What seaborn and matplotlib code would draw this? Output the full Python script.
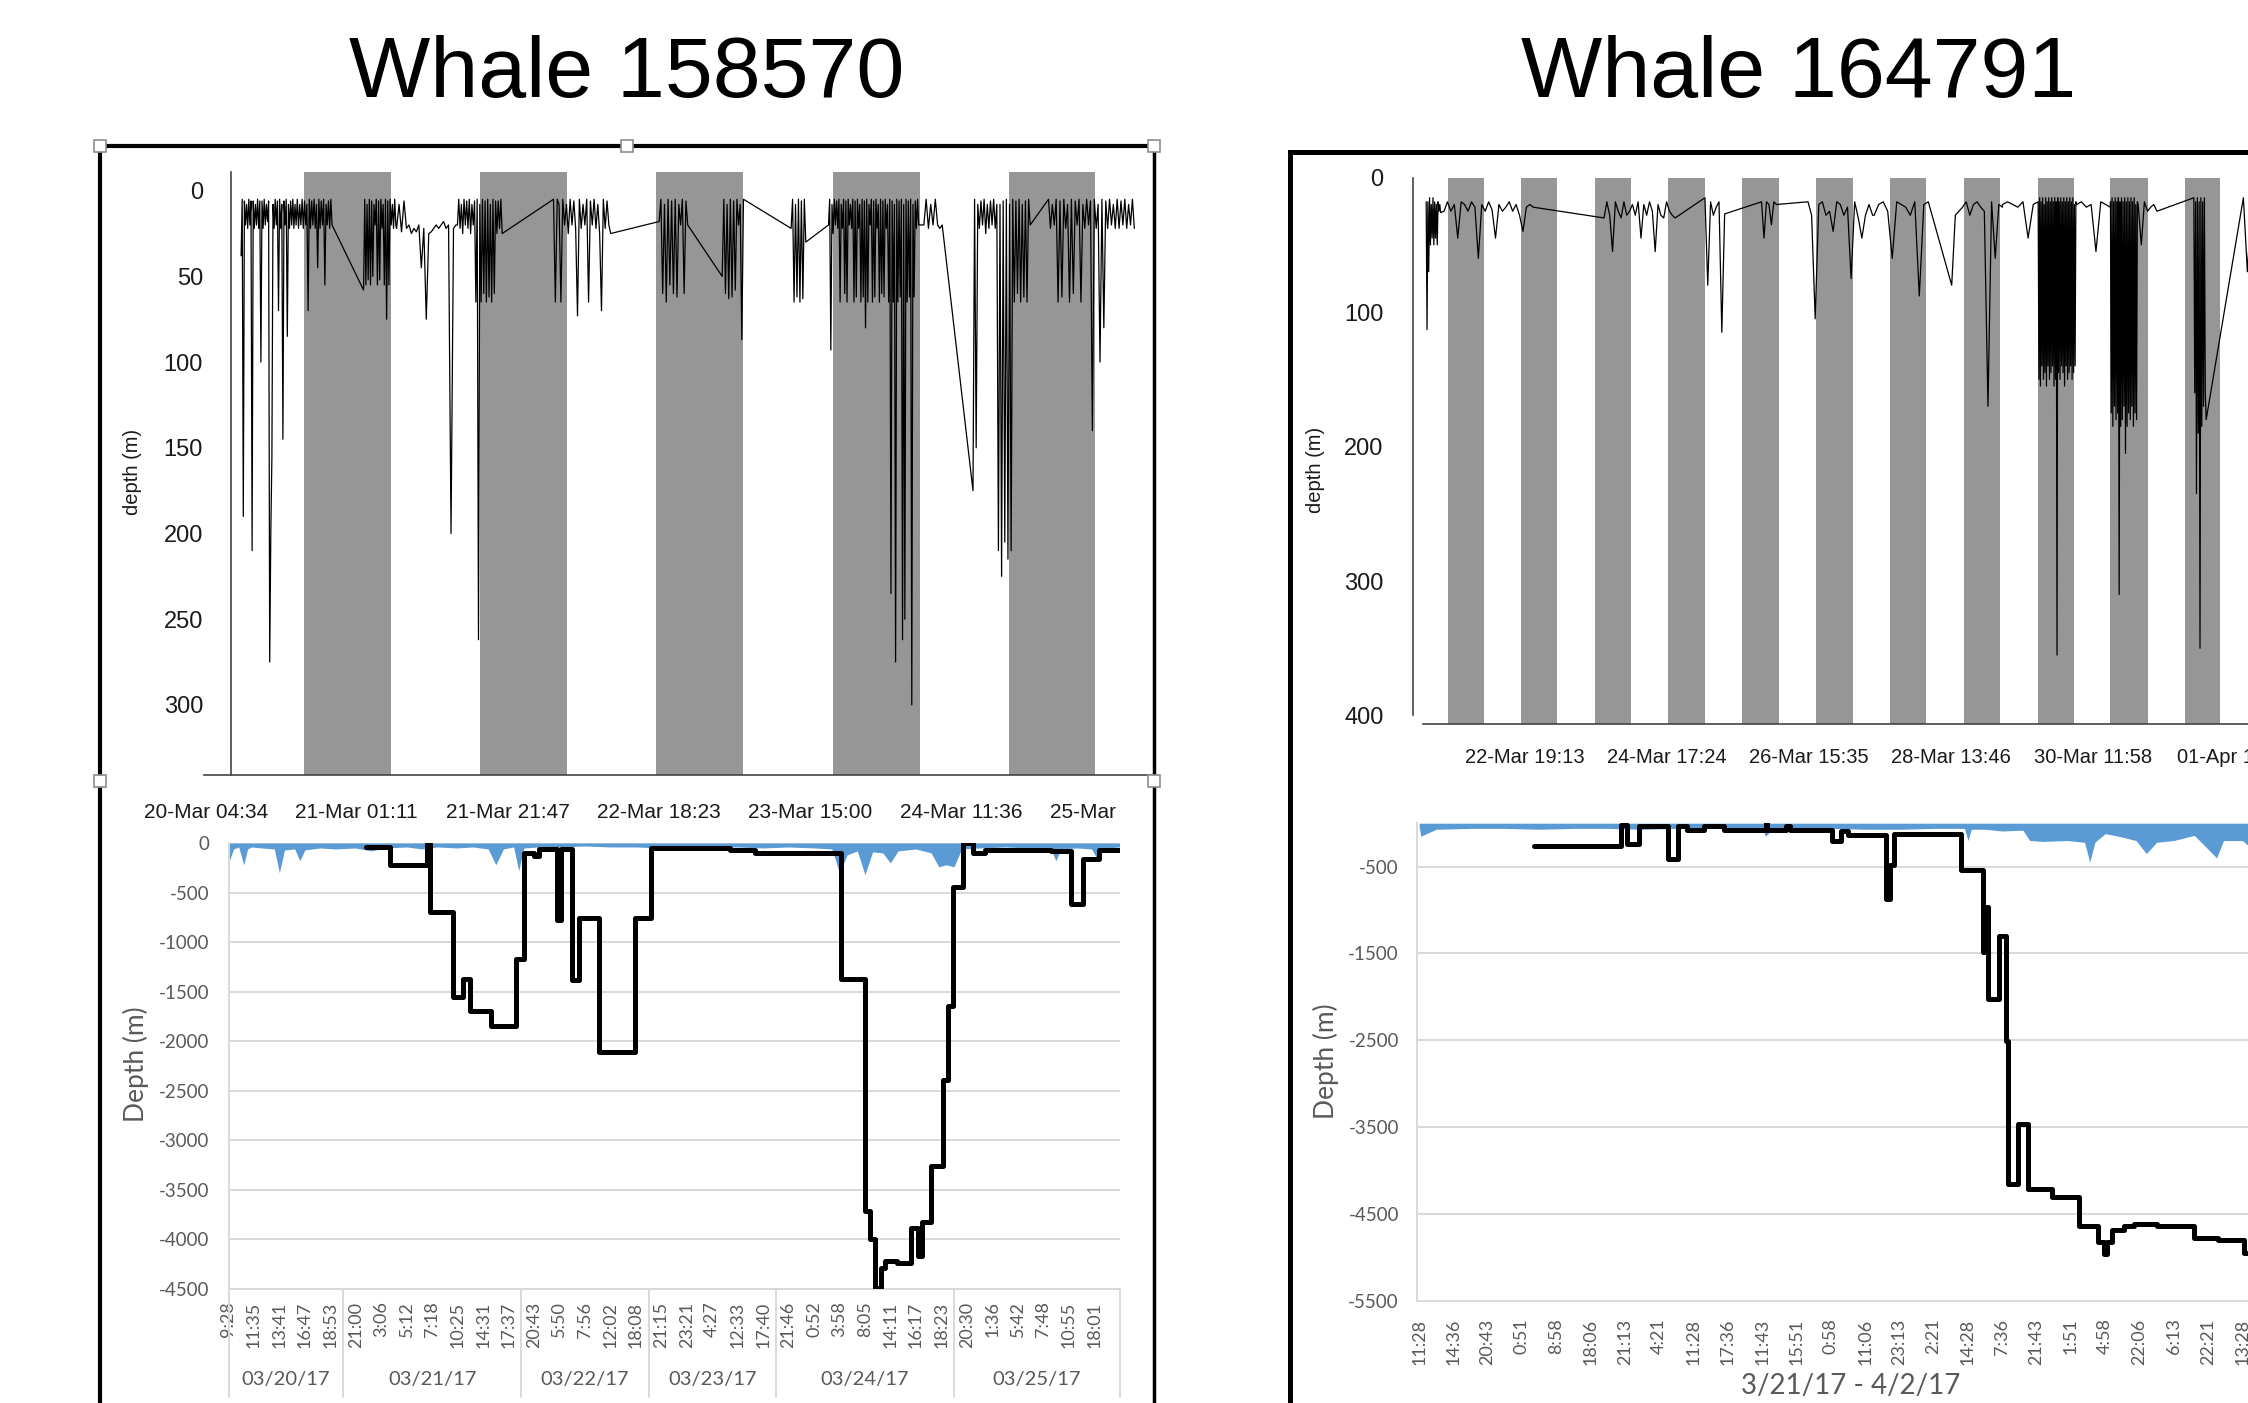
import numpy as np
import pandas as pd
import seaborn as sns
import matplotlib.pyplot as plt
from matplotlib.patches import Rectangle
from matplotlib.lines import Line2D
from matplotlib.transforms import Bbox, TransformedBbox, blended_transform_factory

W, H = 2248, 1403

titles = ['Whale 158570', 'Whale 164791']

# ---------- top panels: dive profiles (hours, depth m), logged in bursts ----------
# whale 158570, hours since 20-Mar 00:00
left_bursts = [
    (9.4, 16.9, "38 5 190 6 20 8 22 5 20 6 210 6 22 8 20 5 22 6 100 6 22 5 20 8 18 6 275 200 155 8 22 5 20 6 70 5 22 8 145 6 20 5 85 8 22 6 20 5 22 8 20"),
    (16.9, 21.8, "20 5 22 8 20 5 22 6 20 8 70 5 22 6 20 5 22 8 45 5 22 6 20 5 55 8 20 6 22 5 20"),
    (26.1, 30.5, "58 5 55 8 52 5 55 6 50 8 20 5 55 6 52 5 22 8 55 5 75 6 55 5 20 8 22 5 20"),
    (30.6, 38.7, "22 8 24 6 22 20 25 22 24 20 45 22 75 25 24 22 20 22 20 18 22 20 200 22 20"),
    (38.9, 45.0, "20 5 22 8 25 5 20 6 22 5 25 8 20 6 65 5 262 8 65 5 60 6 65 5 62 8 65 5 60 6 25 6 22 5 25"),
    (52.0, 59.8, "5 65 5 8 65 5 20 8 25 5 20 6 22 73 5 22 8 20 5 65 6 20 5 22 8 25 70 5 22 6 20 25"),
    (66.4, 70.3, "18 5 60 8 65 5 55 6 60 5 62 8 20 5 60 6 20"),
    (75.0, 77.9, "50 5 60 8 63 5 62 6 58 5 20 8 87 5"),
    (84.4, 86.4, "22 5 65 8 62 5 65 6 63 5 30"),
    (89.5, 101.8, "20 5 93 8 25 5 20 6 22 5 65 8 22 5 60 6 65 5 20 8 22 5 65 6 62 5 22 8 65 5 62 6 80 5 65 8 20 5 65 6 62 5 22 8 65 5 60 6 62 5 22 8 65 5 235 6 65 8 275 5 65 6 62 5 262 8 250 5 65 6 62 5 300 8 62 6 22 5 20"),
    (102.5, 105.0, "20 5 22 8 20 5 20 22 20"),
    (109.2, 117.0, "175 5 150 8 22 6 20 5 25 8 22 6 20 5 22 8 210 8 225 6 205 5 215 8 210 5 65 6 60 5 65 8 62 6 65 5 20"),
    (119.5, 131.2, "5 22 8 20 5 65 6 62 5 22 8 65 5 60 6 20 5 65 8 22 5 20 6 140 5 22 8 100 5 80 6 22 5 20 8 22 5 22 6 20 5 22 8 20 5 22"),
]
left_night_start = [18.0, 42.0, 66.0, 90.1, 114.1]
left_night_end = [29.9, 53.9, 77.9, 102.0, 125.9]
left_hour_labels = ['20-Mar 04:34', '21-Mar 01:11', '21-Mar 21:47', '22-Mar 18:23',
                    '23-Mar 15:00', '24-Mar 11:36', '25-Mar 08:12']

# whale 164791, hours since 21-Mar 00:00
right_bursts = [
    (11.2, 15.9, "18 113 18 70 15 50 20 45 15 50 18 45 20 50 18 25 20 26"),
    (17.0, 46.0, "25 18 25 20 45 18 20 25 18 22 60 20 25 18 24 45 20 25 22 18 25 20 28 40 22 20 22"),
    (69.0, 92.1, "30 18 28 55 18 25 30 18 28 25 20 28 18 45 20 28 18 25 55 20 28 30 18 25 28 30"),
    (101.8, 108.2, "15 80 18 28 22 18 115 27"),
    (120.2, 125.0, "18 45 18 20 35 18 20"),
    (135.3, 156.3, "18 28 105 20 18 28 25 40 18 20 28 22 75 18 30 45 28 20 28"),
    (156.8, 174.4, "28 20 18 25 60 18 20 22 28 18 88 20 18"),
    (182.0, 198.5, "80 28 25 22 18 28 20 18 22 25 170 18 60 20 22"),
    (198.5, 208.5, "20 18 20 22 18 45 20"),
    (210.1, 222.6, "18 150 15 155 18 140 15 150 20 145 15 155 18 140 15 150 18 145 15 140 18 155 15 150 18 355 15 145 18 150 15 140 18 145 15 155 18 140 15 150 18 145 15 140 18 150 15 145 20 140 18 20"),
    (222.6, 233.6, "20 18 22 20 55 18 20 22"),
    (233.6, 242.6, "18 175 15 185 18 170 15 180 18 175 15 310 18 185 15 180 18 170 15 205 18 185 15 175 18 180 15 170 18 185 15 175 20 180 18 20"),
    (242.6, 248.7, "20 50 18 25 22 20 25"),
    (260.7, 264.7, "15 160 18 235 15 190 18 350 15 185 18 170 15 160 180"),
    (276.8, 295.0, "15 70 18 65 15 70 18 60 15 70 18 65 15 70 18"),
]
right_night_start = [18.3, 41.9, 66.0, 89.7, 113.8, 137.9, 162.0, 186.1, 210.1, 233.6, 257.7]
right_night_end = [29.9, 53.6, 77.7, 101.75, 125.8, 149.9, 173.6, 197.7, 221.8, 245.7, 269.3]
right_hour_labels = ['22-Mar 19:13', '24-Mar 17:24', '26-Mar 15:35', '28-Mar 13:46',
                     '30-Mar 11:58', '01-Apr 10:09']

# ---------- bottom panels: Excel charts (category position, depth) ----------
left_time_labels = ['9:28', '11:35', '13:41', '16:47', '18:53', '21:00', '3:06', '5:12', '7:18',
                    '10:25', '14:31', '17:37', '20:43', '5:50', '7:56', '12:02', '18:08', '21:15',
                    '23:21', '4:27', '12:33', '17:40', '21:46', '0:52', '3:58', '8:05', '14:11',
                    '16:17', '18:23', '20:30', '1:36', '5:42', '7:48', '10:55', '18:01']
left_date_groups = ['03/20/17', '03/21/17', '03/22/17', '03/23/17', '03/24/17', '03/25/17']
left_group_edges = [0, 4.5, 11.5, 16.5, 21.5, 28.5, 35]

blue_left_x = [0.0, 0.2, 0.4, 0.6, 0.75, 0.9, 1.3, 1.8, 2.0, 2.2,
               2.6, 2.8, 3.0, 3.6, 4.2, 5.0, 5.6, 6.2, 7.0, 7.6,
               8.2, 9.0, 9.6, 10.2, 10.5, 10.8, 11.2, 11.4, 11.6, 12.2,
               13.0, 14.0, 15.0, 16.0, 17.0, 18.0, 19.0, 20.0, 21.0, 22.0,
               23.0, 23.7, 24.0, 24.3, 24.7, 25.0, 25.3, 25.7, 26.0, 26.3,
               27.0, 27.6, 27.9, 28.2, 28.5, 28.8, 29.5, 30.5, 31.5, 32.3,
               32.5, 32.7, 33.3, 33.9, 34.1, 34.5, 35.0]
blue_left_y = [-200, -60, -40, -220, -60, -40, -50, -60, -300, -70,
               -60, -180, -70, -50, -60, -50, -80, -50, -40, -60,
               -40, -50, -40, -60, -220, -60, -40, -280, -50, -40,
               -40, -30, -40, -40, -50, -40, -40, -40, -50, -40,
               -50, -60, -300, -120, -80, -320, -90, -100, -200, -80,
               -60, -100, -240, -220, -240, -60, -50, -40, -50, -60,
               -180, -60, -50, -60, -150, -50, -40]

step_left_x = [5.4, 6.35, 7.8, 7.9, 8.8, 9.2, 9.5, 10.3, 11.3, 11.6,
               12.0, 12.2, 12.9, 13.05, 13.5, 13.75, 14.55, 15.95, 16.6, 19.7,
               20.7, 24.05, 25.0, 25.2, 25.4, 25.65, 25.8, 26.25, 26.8, 27.1,
               27.25, 27.6, 28.05, 28.25, 28.45, 28.85, 29.25, 29.7, 32.3, 33.1,
               33.55, 34.2, 35.0]
step_left_y = [-40, -227, 0, -700, -1555, -1375, -1695, -1845, -1175, -100,
               -130, -60, -780, -60, -1380, -760, -2110, -760, -50, -70,
               -100, -1375, -3715, -4000, -4490, -4290, -4220, -4240, -3880, -4170,
               -3820, -3260, -2390, -1640, -440, 0, -100, -70, -80, -620,
               -160, -70, -70]

right_time_labels = ['11:28', '14:36', '20:43', '0:51', '8:58', '18:06', '21:13', '4:21', '11:28',
                     '17:36', '11:43', '15:51', '0:58', '11:06', '23:13', '2:21', '14:28', '7:36',
                     '21:43', '1:51', '4:58', '22:06', '6:13', '22:21', '13:28']
right_axis_title = '3/21/17 - 4/2/17'

blue_right_x = [0.0, 0.05, 0.5, 1.5, 2.5, 3.5, 4.5, 5.5, 6.5, 7.5,
                8.5, 9.5, 10.0, 10.1, 10.3, 11.0, 12.0, 13.0, 14.0, 15.0,
                15.9, 16.0, 16.1, 16.5, 17.0, 17.6, 17.8, 18.2, 18.9, 19.4,
                19.55, 19.7, 20.0, 20.5, 20.9, 21.2, 21.5, 22.0, 22.6, 23.0,
                23.25, 23.45, 24.0, 24.3, 25.0, 26.0]
blue_right_y = [-30, -150, -70, -60, -60, -70, -60, -60, -70, -60,
                -60, -70, -60, -150, -70, -60, -60, -70, -70, -60,
                -60, -200, -70, -70, -90, -80, -200, -210, -200, -220,
                -450, -220, -120, -160, -200, -350, -220, -200, -140, -300,
                -400, -200, -200, -300, -180, -200]

step_right_x = [3.36, 5.88, 6.05, 6.42, 7.25, 7.55, 7.8, 8.3, 8.9, 10.1,
                10.15, 10.7, 10.8, 12.05, 12.3, 12.5, 13.6, 13.72, 13.85, 15.8,
                16.45, 16.52, 16.58, 16.9, 17.1, 17.17, 17.45, 17.75, 18.45, 19.25,
                19.8, 19.97, 20.05, 20.2, 20.55, 20.85, 21.5, 22.6, 23.3, 24.05,
                26.0]
step_right_y = [-259, -23, -236, -32, -418, -32, -77, -32, -77, 0,
                -77, -32, -77, -200, -86, -132, -873, -477, -123, -545,
                -1486, -960, -2022, -1305, -2509, -4155, -3464, -4214, -4305, -4636,
                -4827, -4964, -4827, -4690, -4636, -4614, -4636, -4782, -4805, -4955,
                -4955]

# ---------- drawing ----------
sns.set_theme(style='white')
plt.rcParams['font.family'] = ['Liberation Sans', 'DejaVu Sans']
EXCEL = ['Lato', 'DejaVu Sans']
GRAY_TXT = '#595959'
GRID = '#d9d9d9'
BAND = '#969696'
BLUE = '#5b9bd5'

fig = plt.figure(figsize=(W / 100, H / 100), dpi=100)


def rect(x0, y0, x1, y1):
    return [x0 / W, 1 - y1 / H, (x1 - x0) / W, (y1 - y0) / H]


def bursts_df(bursts):
    parts = []
    for t0, t1, s in bursts:
        d = [float(v) for v in s.split()]
        parts.append(pd.DataFrame({'hour': np.linspace(t0, t1, len(d)), 'depth': d}))
    return pd.concat(parts, ignore_index=True)


def top_panel(ax, bursts, n_start, n_end, ticks, labels, first, yticks):
    for a, b in zip(n_start, n_end):
        ax.axvspan(a, b, color=BAND, lw=0, zorder=0)
    sns.lineplot(data=bursts_df(bursts), x='hour', y='depth', sort=False, estimator=None,
                 color='black', linewidth=0.9, ax=ax)
    ax.set_xlabel('')
    ax.set_ylabel('')
    for side in ['top', 'right']:
        ax.spines[side].set_visible(False)
    for side in ['left', 'bottom']:
        ax.spines[side].set_color('#444444')
        ax.spines[side].set_linewidth(1.2)
    ax.set_yticks(yticks)
    ax.set_xticks(ticks)
    names = []
    for i in range(len(ticks)):
        k = (i - first) // 3
        names.append(labels[k] if (i - first) % 3 == 0 and 0 <= k < len(labels) else '')
    ax.set_xticklabels(names)
    ax.tick_params(colors='#444444', length=9.5, width=1.2, direction='out', labelcolor='#1a1a1a')


# --- top left
ax_lt = fig.add_axes(rect(203.7, 172, 1151.2, 775))
top_panel(ax_lt, left_bursts, left_night_start, left_night_end,
          4.567 + 6.8685 * np.arange(19), left_hour_labels, 0, range(0, 301, 50))
ax_lt.set_xlim(4.3, 133.5)
ax_lt.set_ylim(340.9, -10.9)
ax_lt.spines['left'].set_position(('data', 8.0))
ax_lt.tick_params(axis='y', labelsize=17, pad=10.5)
ax_lt.tick_params(axis='x', labelsize=15, pad=11)
clip = TransformedBbox(Bbox([[0, 0], [1121 / W, 1]]), fig.transFigure)
for lbl in ax_lt.get_xticklabels():
    lbl.set_clip_box(clip)
    lbl.set_clip_on(True)

# --- top right
ax_rt = fig.add_axes(rect(1412.7, 177.6, 2300, 723.7))
top_panel(ax_rt, right_bursts, right_night_start, right_night_end,
          12.44 + 15.39 * np.arange(19), right_hour_labels, 2, range(0, 401, 100))
ax_rt.set_xlim(6.82, 295.2)
ax_rt.set_ylim(406.1, 0)
ax_rt.spines['left'].set_bounds(0, 400)
ax_rt.spines['bottom'].set_bounds(10.2, 300)
ax_rt.tick_params(axis='y', labelsize=17, pad=11.5)
ax_rt.tick_params(axis='x', labelsize=14.5, pad=8)


def excel_panel(ax, bx, by, sx, sy, xlim, ylim, yticks):
    ax.fill_between(bx, by, 0, color=BLUE, lw=0, zorder=2)
    sns.lineplot(x=sx, y=sy, sort=False, estimator=None, drawstyle='steps-post',
                 color='black', linewidth=3.6, ax=ax, zorder=3)
    ax.set_xlim(*xlim)
    ax.set_ylim(*ylim)
    ax.set_yticks(yticks)
    ax.set_yticklabels([str(v) for v in yticks], fontfamily=EXCEL)
    ax.yaxis.grid(True, color=GRID, lw=1.4)
    ax.set_axisbelow(True)
    for side in ['top', 'right']:
        ax.spines[side].set_visible(False)
    for side in ['left', 'bottom']:
        ax.spines[side].set_color(GRID)
        ax.spines[side].set_linewidth(1.4)
    ax.tick_params(axis='y', length=0, labelsize=13.5, labelcolor=GRAY_TXT)


# --- bottom left
ax_lb = fig.add_axes(rect(228.5, 843, 1119.5, 1289))
excel_panel(ax_lb, blue_left_x, blue_left_y, step_left_x, step_left_y,
            (0, 35), (-4500, 0), list(range(0, -4501, -500)))
ax_lb.tick_params(axis='y', pad=14)
ax_lb.set_xticks(range(len(left_time_labels)))
ax_lb.set_xticklabels(left_time_labels, rotation=90, fontfamily=EXCEL)
ax_lb.tick_params(axis='x', length=0, pad=9, labelsize=13, labelcolor=GRAY_TXT)
trans = blended_transform_factory(ax_lb.transData, ax_lb.transAxes)
for e in left_group_edges:
    ax_lb.plot([e, e], [0, -0.242], transform=trans, color=GRID, lw=1.4, clip_on=False)
for g, a, b in zip(left_date_groups, left_group_edges[:-1], left_group_edges[1:]):
    ax_lb.text((a + b) / 2, -0.204, g, transform=trans, ha='center', va='center',
               fontsize=14.5, color=GRAY_TXT, fontfamily=EXCEL)

# --- bottom right
ax_rb = fig.add_axes(rect(1417, 823.2, 2300, 1300.5))
excel_panel(ax_rb, blue_right_x, blue_right_y, step_right_x, step_right_y,
            (-0.06, 25.68), (-5500, 0), list(range(-500, -5501, -1000)))
ax_rb.tick_params(axis='y', pad=13)
ax_rb.set_xticks(range(len(right_time_labels)))
ax_rb.set_xticklabels(right_time_labels, rotation=90, fontfamily=EXCEL)
ax_rb.set_xticks(np.arange(0, 25.7, 1 / 6), minor=True)
ax_rb.tick_params(axis='x', which='both', length=5, width=1, color='#bfbfbf',
                  pad=8, labelsize=13, labelcolor=GRAY_TXT)

# ---------- text ----------
fig.text(627 / W, 1 - 75 / H, titles[0], ha='center', va='center', fontsize=62, color='black')
fig.text(1799 / W, 1 - 75 / H, titles[1], ha='center', va='center', fontsize=62, color='black')
fig.text(132 / W, 1 - 472 / H, 'depth (m)', rotation=90, ha='center', va='center',
         fontsize=14.5, color='#1a1a1a')
fig.text(1316 / W, 1 - 470 / H, 'depth (m)', rotation=90, ha='center', va='center',
         fontsize=14.5, color='#1a1a1a')
fig.text(136 / W, 1 - 1064 / H, 'Depth (m)', rotation=90, ha='center', va='center',
         fontsize=19, color=GRAY_TXT, fontfamily=EXCEL)
fig.text(1326 / W, 1 - 1061 / H, 'Depth (m)', rotation=90, ha='center', va='center',
         fontsize=19, color=GRAY_TXT, fontfamily=EXCEL)
fig.text(1851 / W, 1 - 1386 / H, right_axis_title, ha='center', va='center',
         fontsize=20, color=GRAY_TXT, fontfamily=EXCEL)


# ---------- frames around each whale ----------
def fline(x0, y0, x1, y1, lw):
    fig.add_artist(Line2D([x0 / W, x1 / W], [1 - y0 / H, 1 - y1 / H], transform=fig.transFigure,
                          color='black', lw=lw, solid_capstyle='projecting', zorder=5))


fline(100, 146, 1154, 146, 3)
fline(100, 146, 100, 1410, 3)
fline(1154, 146, 1154, 1410, 2.5)
fline(1290, 152, 2260, 152, 3.6)
fline(1290, 152, 1290, 1410, 3.6)

for cx, cy in [(100, 146), (627, 146), (1154, 146), (100, 781), (1154, 781)]:
    fig.add_artist(Rectangle(((cx - 6) / W, 1 - (cy + 6) / H), 12 / W, 12 / H,
                             transform=fig.transFigure, facecolor='white',
                             edgecolor='#8c8c8c', lw=1.2, zorder=6))

fig.savefig('out.png', dpi=100)
